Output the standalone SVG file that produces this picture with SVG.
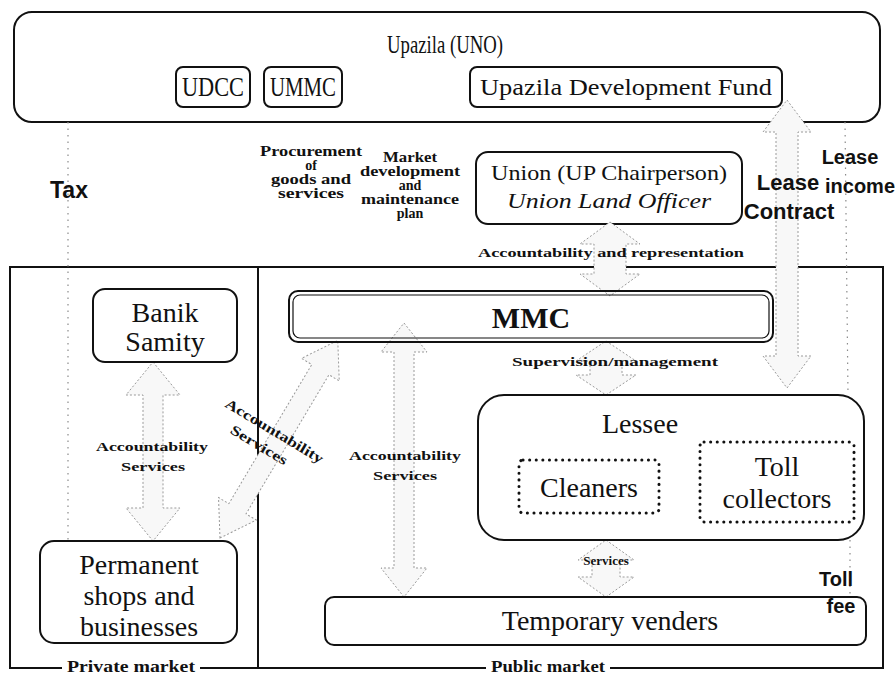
<svg xmlns="http://www.w3.org/2000/svg" width="895" height="675" viewBox="0 0 895 675">
<style>
.box{fill:none;stroke:#111;stroke-width:2}
.frame{fill:none;stroke:#111;stroke-width:2}
.dot{fill:none;stroke:#111;stroke-width:3;stroke-dasharray:0.1 6.5;stroke-linecap:round}
.arr{fill:#f8f8f8;stroke:#9a9a9a;stroke-width:1;stroke-dasharray:2 2}
.thin{fill:none;stroke:#8a8a8a;stroke-width:1.2;stroke-dasharray:1.5 5}
.t{font-family:"Liberation Serif","Times New Roman",serif;fill:#111;text-anchor:middle}
.lab{font-family:"Liberation Serif","Times New Roman",serif;font-weight:bold;font-size:13px;fill:#111;text-anchor:middle}
.lab14{font-size:14px}
.sans{font-family:"Liberation Sans",Arial,sans-serif;font-weight:bold;fill:#111;text-anchor:middle}
</style>
<rect width="895" height="675" fill="#fff"/>

<!-- market frames -->
<g id="frames">
  <path class="frame" d="M10,267 H883 V668 H10 Z M258,267 V668"/>
  <rect x="62" y="659" width="138" height="16" fill="#fff"/>
  <text class="lab" x="131" y="672" style="font-size:16px" textLength="128" lengthAdjust="spacingAndGlyphs">Private market</text>
  <rect x="486" y="659" width="124" height="16" fill="#fff"/>
  <text class="lab" x="548" y="672" style="font-size:16px" textLength="114" lengthAdjust="spacingAndGlyphs">Public market</text>
</g>

<g id="upazila">
  <rect class="box" x="14" y="12" width="866" height="110" rx="18"/>
  <text class="t" x="445" y="53" style="font-size:26px" textLength="116" lengthAdjust="spacingAndGlyphs">Upazila (UNO)</text>
</g>
<g id="udcc">
  <rect class="box" x="176" y="67" width="74" height="40" rx="7"/>
  <text class="t" x="213" y="96" style="font-size:27px" textLength="62" lengthAdjust="spacingAndGlyphs">UDCC</text>
</g>
<g id="ummc">
  <rect class="box" x="264" y="67" width="78" height="40" rx="7"/>
  <text class="t" x="303" y="96" style="font-size:27px" textLength="66" lengthAdjust="spacingAndGlyphs">UMMC</text>
</g>
<g id="udf">
  <rect class="box" x="470" y="67" width="312" height="40" rx="7"/>
  <text class="t" x="626" y="95" style="font-size:23px" textLength="292" lengthAdjust="spacingAndGlyphs">Upazila Development Fund</text>
</g>

<g id="union">
  <rect class="box" x="476" y="152" width="266" height="72" rx="12"/>
  <text class="t" x="609" y="180" style="font-size:22px" textLength="236" lengthAdjust="spacingAndGlyphs">Union (UP Chairperson)</text>
  <text class="t" x="609" y="208" style="font-size:22px;font-style:italic" textLength="204" lengthAdjust="spacingAndGlyphs">Union Land Officer</text>
</g>

<!-- connectors -->
<g id="connectors">
  <line class="thin" x1="68" y1="122" x2="68" y2="541"/>
  <line class="thin" x1="845" y1="122" x2="848" y2="395"/>
  <line class="thin" x1="850" y1="540" x2="850" y2="598"/>
  <path class="arr" d="M787,100 L811,132 L798,132 L798,356 L811,356 L787,388 L763,356 L776,356 L776,132 L763,132 Z"/>
  <path class="arr" d="M610,222 L640,244 L626,244 L626,274 L640,274 L610,296 L580,274 L594,274 L594,244 L580,244 Z"/>
  <path class="arr" d="M606,341 L636,361 L622,361 L622,375 L636,375 L606,395 L576,375 L590,375 L590,361 L576,361 Z"/>
  <path class="arr" d="M606,540 L634,560 L620,560 L620,577 L634,577 L606,597 L578,577 L592,577 L592,560 L578,560 Z"/>
  <path class="arr" d="M404,323 L427,352 L414,352 L414,568 L427,568 L404,597 L381,568 L394,568 L394,352 L381,352 Z"/>
  <path class="arr" d="M153,362 L180,395 L163,395 L163,508 L180,508 L153,541 L126,508 L143,508 L143,395 L126,395 Z"/>
  <path class="arr" transform="translate(220,538) rotate(-59.2)" d="M0,0 L34,-22 L34,-10 L196,-10 L196,-22 L230,0 L196,22 L196,10 L34,10 L34,22 Z"/>
</g>

<g id="labels">
  <text class="sans" x="69" y="198" style="font-size:23px">Tax</text>
  <text class="lab lab14" x="311" y="156" textLength="102" lengthAdjust="spacingAndGlyphs">Procurement</text>
  <text class="lab lab14" x="311" y="170">of</text>
  <text class="lab lab14" x="311" y="184" textLength="80" lengthAdjust="spacingAndGlyphs">goods and</text>
  <text class="lab lab14" x="311" y="198" textLength="66" lengthAdjust="spacingAndGlyphs">services</text>
  <text class="lab lab14" x="410" y="162" textLength="54" lengthAdjust="spacingAndGlyphs">Market</text>
  <text class="lab lab14" x="410" y="176" textLength="100" lengthAdjust="spacingAndGlyphs">development</text>
  <text class="lab lab14" x="410" y="190">and</text>
  <text class="lab lab14" x="410" y="204" textLength="98" lengthAdjust="spacingAndGlyphs">maintenance</text>
  <text class="lab lab14" x="410" y="218">plan</text>
  <text class="lab" x="611" y="257" textLength="266" lengthAdjust="spacingAndGlyphs">Accountability and representation</text>
  <text class="sans" x="788" y="190" style="font-size:22px">Lease</text>
  <text class="sans" x="789" y="219" style="font-size:22px">Contract</text>
  <text class="sans" x="850" y="164" style="font-size:20px">Lease</text>
  <text class="sans" x="860" y="193" style="font-size:20px">income</text>
  <text class="lab" x="615" y="366" textLength="206" lengthAdjust="spacingAndGlyphs">Supervision/management</text>
  <text class="lab" x="152" y="451" textLength="112" lengthAdjust="spacingAndGlyphs">Accountability</text>
  <text class="lab" x="153" y="471" textLength="64" lengthAdjust="spacingAndGlyphs">Services</text>
  <text class="lab" x="405" y="460" textLength="112" lengthAdjust="spacingAndGlyphs">Accountability</text>
  <text class="lab" x="405" y="480" textLength="64" lengthAdjust="spacingAndGlyphs">Services</text>
  <g transform="translate(272,435) rotate(31)">
    <text class="lab lab14" x="0" y="0" textLength="112" lengthAdjust="spacingAndGlyphs">Accountability</text>
    <text class="lab lab14" x="-6" y="20" textLength="64" lengthAdjust="spacingAndGlyphs">Services</text>
  </g>
  <text class="lab" x="606" y="565">Services</text>
  <text class="sans" x="836" y="586" style="font-size:20px">Toll</text>
  <text class="sans" x="841" y="613" style="font-size:20px">fee</text>
</g>

<g id="banik">
  <rect class="box" x="93" y="289" width="144" height="73" rx="12"/>
  <text class="t" x="165" y="322" style="font-size:28px">Banik</text>
  <text class="t" x="165" y="351" style="font-size:28px">Samity</text>
</g>
<g id="mmc">
  <rect class="box" x="289" y="291" width="484" height="51" rx="9"/>
  <rect x="293" y="295" width="476" height="43" rx="7" fill="none" stroke="#111" stroke-width="1.2"/>
  <text class="t" x="531" y="328" style="font-size:30px;font-weight:bold">MMC</text>
</g>
<g id="lessee">
  <rect class="box" x="478" y="395" width="386" height="145" rx="26"/>
  <text class="t" x="640" y="433" style="font-size:28px">Lessee</text>
</g>
<g id="cleaners">
  <rect class="dot" x="519" y="460" width="140" height="53" rx="4"/>
  <text class="t" x="589" y="497" style="font-size:28px">Cleaners</text>
</g>
<g id="toll">
  <rect class="dot" x="700" y="442" width="154" height="80" rx="4"/>
  <text class="t" x="777" y="476" style="font-size:28px">Toll</text>
  <text class="t" x="777" y="508" style="font-size:28px">collectors</text>
</g>
<g id="permanent">
  <rect class="box" x="40" y="541" width="197" height="102" rx="14"/>
  <text class="t" x="139" y="574" style="font-size:28px">Permanent</text>
  <text class="t" x="139" y="605" style="font-size:28px">shops and</text>
  <text class="t" x="139" y="636" style="font-size:28px">businesses</text>
</g>
<g id="temporary">
  <rect class="box" x="325" y="597" width="541" height="48" rx="9"/>
  <text class="t" x="610" y="630" style="font-size:28px">Temporary venders</text>
</g>
</svg>
